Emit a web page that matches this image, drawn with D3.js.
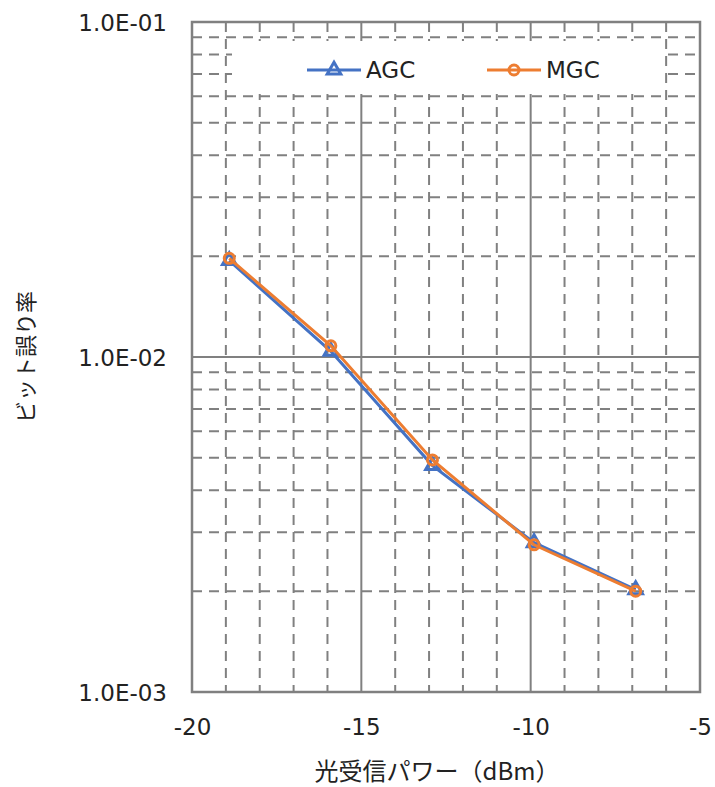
<!DOCTYPE html>
<html><head><meta charset="utf-8">
<script src="https://cdn.jsdelivr.net/npm/d3@7"></script>
<style>html,body{margin:0;padding:0;background:#fff;}svg{display:block;}</style>
</head><body>
<svg id="c" width="715" height="787"></svg>
<script>
// ---- data ----
const xValues = [-18.9, -15.9, -12.9, -9.9, -6.9];
const agcValues = [1.94e-2, 1.04e-2, 4.74e-3, 2.79e-3, 2.02e-3];
const mgcValues = [1.97e-2, 1.08e-2, 4.93e-3, 2.75e-3, 2.0e-3];
const seriesNames = ["AGC", "MGC"];
const xTickValues = [-20, -15, -10, -5];
const xTickLabels = ["-20", "-15", "-10", "-5"];
const yTickValues = [1e-1, 1e-2, 1e-3];
const yTickLabels = ["1.0E-01", "1.0E-02", "1.0E-03"];
const xTitle = "光受信パワー（dBm）";
const yTitle = "ビット誤り率";

// ---- layout ----
const L = 192, R = 700, T = 22, B = 692;
const svg = d3.select("#c");
svg.append("rect").attr("width", 715).attr("height", 787).attr("fill", "#fff");
const x = d3.scaleLinear().domain([-20, -5]).range([L, R]);
const y = d3.scaleLog().domain([1e-3, 1e-1]).range([B, T]);
const gridCol = "#808080";
const blue = "#4472C4", orange = "#ED7D31";
const numFont = "'DejaVu Sans', Verdana, sans-serif";
const jpFont = "'Noto Sans CJK JP', sans-serif";

// minor grid
const minorX = d3.range(-20, -4).filter(v => !xTickValues.includes(v));
const minorY = [];
[1e-3, 1e-2].forEach(d => { for (let k = 2; k <= 9; k++) minorY.push(d * k); });
const g = svg.append("g");
g.selectAll(".mx").data(minorX).join("line")
  .attr("x1", d => x(d)).attr("x2", d => x(d)).attr("y1", T).attr("y2", B)
  .attr("stroke", gridCol).attr("stroke-width", 2).attr("stroke-dasharray", "10,7");
g.selectAll(".my").data(minorY).join("line")
  .attr("x1", L).attr("x2", R).attr("y1", d => y(d)).attr("y2", d => y(d))
  .attr("stroke", gridCol).attr("stroke-width", 2).attr("stroke-dasharray", "10,7");
// major grid
g.selectAll(".Mx").data(xTickValues.slice(1, -1)).join("line")
  .attr("x1", d => x(d)).attr("x2", d => x(d)).attr("y1", T).attr("y2", B)
  .attr("stroke", gridCol).attr("stroke-width", 2);
g.selectAll(".My").data(yTickValues.slice(1, -1)).join("line")
  .attr("x1", L).attr("x2", R).attr("y1", d => y(d)).attr("y2", d => y(d))
  .attr("stroke", gridCol).attr("stroke-width", 2);
// border
svg.append("rect").attr("x", L).attr("y", T).attr("width", R - L).attr("height", B - T)
  .attr("fill", "none").attr("stroke", gridCol).attr("stroke-width", 2.5);

// axes labels
const xAxis = d3.axisBottom(x).tickValues(xTickValues).tickFormat((d, i) => xTickLabels[i]).tickSize(0).tickPadding(0);
const xa = svg.append("g").attr("transform", `translate(0,${B})`).call(xAxis);
xa.select(".domain").remove();
xa.selectAll("text").attr("font-family", numFont).attr("font-size", 23).attr("fill", "#222")
  .attr("dy", null).attr("y", 43);
const yAxis = d3.axisLeft(y).tickValues(yTickValues).tickFormat((d, i) => yTickLabels[i]).tickSize(0).tickPadding(0);
const ya = svg.append("g").attr("transform", `translate(167,0)`).call(yAxis);
ya.select(".domain").remove();
ya.selectAll("text").attr("font-family", numFont).attr("font-size", 23).attr("fill", "#222")
  .attr("dy", "0.36em").attr("x", 0);

// titles
svg.append("text").attr("x", 437).attr("y", 780).attr("text-anchor", "middle")
  .attr("font-family", jpFont).attr("font-size", 24).attr("fill", "#222").text(xTitle);
svg.append("text").attr("transform", "translate(34,357) rotate(-90)").attr("text-anchor", "middle")
  .attr("font-family", jpFont).attr("font-size", 22).attr("fill", "#222").text(yTitle);

// series
const line = d3.line().x(d => x(d[0])).y(d => y(d[1]));
const agcPts = xValues.map((v, i) => [v, agcValues[i]]);
const mgcPts = xValues.map((v, i) => [v, mgcValues[i]]);
const tri = d3.symbol().type(d3.symbolTriangle).size(80);
svg.append("path").datum(agcPts).attr("d", line).attr("fill", "none").attr("stroke", blue).attr("stroke-width", 3);
svg.selectAll(".ta").data(agcPts).join("path")
  .attr("transform", d => `translate(${x(d[0])},${y(d[1])})`).attr("d", tri())
  .attr("fill", "none").attr("stroke", blue).attr("stroke-width", 3);
svg.append("path").datum(mgcPts).attr("d", line).attr("fill", "none").attr("stroke", orange).attr("stroke-width", 3);
svg.selectAll(".cm").data(mgcPts).join("circle")
  .attr("cx", d => x(d[0])).attr("cy", d => y(d[1])).attr("r", 5)
  .attr("fill", "none").attr("stroke", orange).attr("stroke-width", 3);

// legend
svg.append("rect").attr("x", 232).attr("y", 41).attr("width", 432).attr("height", 53).attr("fill", "#fff");
const ly = 70;
const leg = [{ name: seriesNames[0], col: blue, x0: 307, mk: "tri" }, { name: seriesNames[1], col: orange, x0: 487, mk: "circ" }];
leg.forEach(o => {
  svg.append("line").attr("x1", o.x0).attr("x2", o.x0 + 54).attr("y1", ly).attr("y2", ly)
    .attr("stroke", o.col).attr("stroke-width", 3);
  if (o.mk === "tri") {
    svg.append("path").attr("transform", `translate(${o.x0 + 27},${ly})`).attr("d", tri())
      .attr("fill", "none").attr("stroke", o.col).attr("stroke-width", 3);
  } else {
    svg.append("circle").attr("cx", o.x0 + 27).attr("cy", ly).attr("r", 5)
      .attr("fill", "none").attr("stroke", o.col).attr("stroke-width", 3);
  }
  svg.append("text").attr("x", o.x0 + 59).attr("y", ly).attr("dy", "0.36em")
    .attr("font-family", numFont).attr("font-size", 23).attr("fill", "#222").text(o.name);
});
</script>
</body></html>
